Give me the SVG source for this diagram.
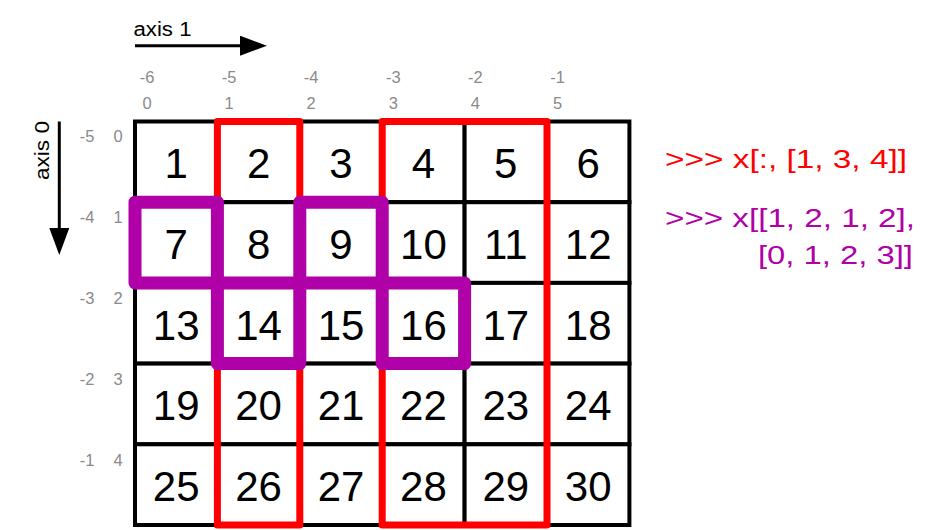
<svg xmlns="http://www.w3.org/2000/svg" width="938" height="530" viewBox="0 0 938 530">
<style>
text{font-family:"Liberation Sans",Arial,Helvetica,sans-serif}
.cell rect{fill:#fff;stroke:#000;stroke-width:4}
.cell text{font-size:42px;text-anchor:middle;fill:#000}
.idx{font-size:16.5px;fill:#8a8a8a;text-anchor:middle}
.axis{font-size:19.5px;fill:#000}
.sel-red{fill:none;stroke:#ff0000;stroke-width:7;stroke-linejoin:round}
.sel-purple{fill:none;stroke:#b000a8;stroke-width:13;stroke-linejoin:round}
.code{font-size:25px}
.arrow{stroke:#000;stroke-width:3;fill:none}
</style>
<defs>
<marker id="head" viewBox="0 -10 27 20" refX="0" refY="0" markerWidth="27" markerHeight="20" markerUnits="userSpaceOnUse" orient="auto">
<path d="M0,-10 L27,0 L0,10 Z" fill="#000"/>
</marker>
</defs>
<rect width="938" height="530" fill="#fff"/>

<g id="connectors">
<line class="arrow" x1="135" y1="45.7" x2="240" y2="45.7" marker-end="url(#head)"/>
<line class="arrow" x1="59.3" y1="121.5" x2="59.3" y2="228" marker-end="url(#head)"/>
</g>

<g id="axis-labels">
<text class="axis" x="133.5" y="35.7" textLength="58" lengthAdjust="spacingAndGlyphs">axis 1</text>
<text class="axis" transform="translate(48.8,180) rotate(-90)" x="0" y="0" textLength="59" lengthAdjust="spacingAndGlyphs">axis 0</text>
</g>

<g id="column-indices">
<text class="idx" x="147" y="83.3">-6</text>
<text class="idx" x="229.1" y="83.3">-5</text>
<text class="idx" x="311.2" y="83.3">-4</text>
<text class="idx" x="393.3" y="83.3">-3</text>
<text class="idx" x="475.4" y="83.3">-2</text>
<text class="idx" x="557.5" y="83.3">-1</text>
<text class="idx" x="147" y="109.3">0</text>
<text class="idx" x="229.1" y="109.3">1</text>
<text class="idx" x="311.2" y="109.3">2</text>
<text class="idx" x="393.3" y="109.3">3</text>
<text class="idx" x="475.4" y="109.3">4</text>
<text class="idx" x="557.5" y="109.3">5</text>
</g>

<g id="row-indices">
<text class="idx" x="87" y="142.3">-5</text>
<text class="idx" x="87" y="223.3">-4</text>
<text class="idx" x="87" y="304.3">-3</text>
<text class="idx" x="87" y="385">-2</text>
<text class="idx" x="87" y="465.7">-1</text>
<text class="idx" x="118" y="142.3">0</text>
<text class="idx" x="118" y="223.3">1</text>
<text class="idx" x="118" y="304.3">2</text>
<text class="idx" x="118" y="385">3</text>
<text class="idx" x="118" y="465.7">4</text>
</g>

<g id="grid">
<g id="cell-1" class="cell"><rect x="135" y="121.5" width="82.4" height="80.7"/><text x="176.2" y="178.2">1</text></g>
<g id="cell-2" class="cell"><rect x="217.4" y="121.5" width="82.4" height="80.7"/><text x="258.6" y="178.2">2</text></g>
<g id="cell-3" class="cell"><rect x="299.8" y="121.5" width="82.4" height="80.7"/><text x="341" y="178.2">3</text></g>
<g id="cell-4" class="cell"><rect x="382.2" y="121.5" width="82.4" height="80.7"/><text x="423.4" y="178.2">4</text></g>
<g id="cell-5" class="cell"><rect x="464.6" y="121.5" width="82.4" height="80.7"/><text x="505.8" y="178.2">5</text></g>
<g id="cell-6" class="cell"><rect x="547" y="121.5" width="82.4" height="80.7"/><text x="588.2" y="178.2">6</text></g>

<g id="cell-7" class="cell"><rect x="135" y="202.2" width="82.4" height="80.7"/><text x="176.2" y="258.9">7</text></g>
<g id="cell-8" class="cell"><rect x="217.4" y="202.2" width="82.4" height="80.7"/><text x="258.6" y="258.9">8</text></g>
<g id="cell-9" class="cell"><rect x="299.8" y="202.2" width="82.4" height="80.7"/><text x="341" y="258.9">9</text></g>
<g id="cell-10" class="cell"><rect x="382.2" y="202.2" width="82.4" height="80.7"/><text x="423.4" y="258.9">10</text></g>
<g id="cell-11" class="cell"><rect x="464.6" y="202.2" width="82.4" height="80.7"/><text x="505.8" y="258.9">11</text></g>
<g id="cell-12" class="cell"><rect x="547" y="202.2" width="82.4" height="80.7"/><text x="588.2" y="258.9">12</text></g>

<g id="cell-13" class="cell"><rect x="135" y="282.9" width="82.4" height="80.7"/><text x="176.2" y="339.6">13</text></g>
<g id="cell-14" class="cell"><rect x="217.4" y="282.9" width="82.4" height="80.7"/><text x="258.6" y="339.6">14</text></g>
<g id="cell-15" class="cell"><rect x="299.8" y="282.9" width="82.4" height="80.7"/><text x="341" y="339.6">15</text></g>
<g id="cell-16" class="cell"><rect x="382.2" y="282.9" width="82.4" height="80.7"/><text x="423.4" y="339.6">16</text></g>
<g id="cell-17" class="cell"><rect x="464.6" y="282.9" width="82.4" height="80.7"/><text x="505.8" y="339.6">17</text></g>
<g id="cell-18" class="cell"><rect x="547" y="282.9" width="82.4" height="80.7"/><text x="588.2" y="339.6">18</text></g>

<g id="cell-19" class="cell"><rect x="135" y="363.6" width="82.4" height="80.7"/><text x="176.2" y="420.3">19</text></g>
<g id="cell-20" class="cell"><rect x="217.4" y="363.6" width="82.4" height="80.7"/><text x="258.6" y="420.3">20</text></g>
<g id="cell-21" class="cell"><rect x="299.8" y="363.6" width="82.4" height="80.7"/><text x="341" y="420.3">21</text></g>
<g id="cell-22" class="cell"><rect x="382.2" y="363.6" width="82.4" height="80.7"/><text x="423.4" y="420.3">22</text></g>
<g id="cell-23" class="cell"><rect x="464.6" y="363.6" width="82.4" height="80.7"/><text x="505.8" y="420.3">23</text></g>
<g id="cell-24" class="cell"><rect x="547" y="363.6" width="82.4" height="80.7"/><text x="588.2" y="420.3">24</text></g>

<g id="cell-25" class="cell"><rect x="135" y="444.3" width="82.4" height="80.7"/><text x="176.2" y="501">25</text></g>
<g id="cell-26" class="cell"><rect x="217.4" y="444.3" width="82.4" height="80.7"/><text x="258.6" y="501">26</text></g>
<g id="cell-27" class="cell"><rect x="299.8" y="444.3" width="82.4" height="80.7"/><text x="341" y="501">27</text></g>
<g id="cell-28" class="cell"><rect x="382.2" y="444.3" width="82.4" height="80.7"/><text x="423.4" y="501">28</text></g>
<g id="cell-29" class="cell"><rect x="464.6" y="444.3" width="82.4" height="80.7"/><text x="505.8" y="501">29</text></g>
<g id="cell-30" class="cell"><rect x="547" y="444.3" width="82.4" height="80.7"/><text x="588.2" y="501">30</text></g>
</g>

<g id="selection-columns">
<rect class="sel-red" x="217.4" y="121.5" width="82.4" height="403.5"/>
<rect class="sel-red" x="382.2" y="121.5" width="164.8" height="403.5"/>
</g>

<g id="selection-points">
<rect class="sel-purple" x="135" y="202.2" width="82.4" height="80.7"/>
<rect class="sel-purple" x="217.4" y="282.9" width="82.4" height="80.7"/>
<rect class="sel-purple" x="299.8" y="202.2" width="82.4" height="80.7"/>
<rect class="sel-purple" x="382.2" y="282.9" width="82.4" height="80.7"/>
</g>

<g id="code">
<text class="code" fill="#ff0000" x="665" y="168" textLength="242" lengthAdjust="spacingAndGlyphs">&gt;&gt;&gt; x[:, [1, 3, 4]]</text>
<text class="code" fill="#b000a8" x="665" y="226.5" textLength="250" lengthAdjust="spacingAndGlyphs">&gt;&gt;&gt; x[[1, 2, 1, 2],</text>
<text class="code" fill="#b000a8" x="758" y="263.8" textLength="155" lengthAdjust="spacingAndGlyphs">[0, 1, 2, 3]]</text>
</g>
</svg>
